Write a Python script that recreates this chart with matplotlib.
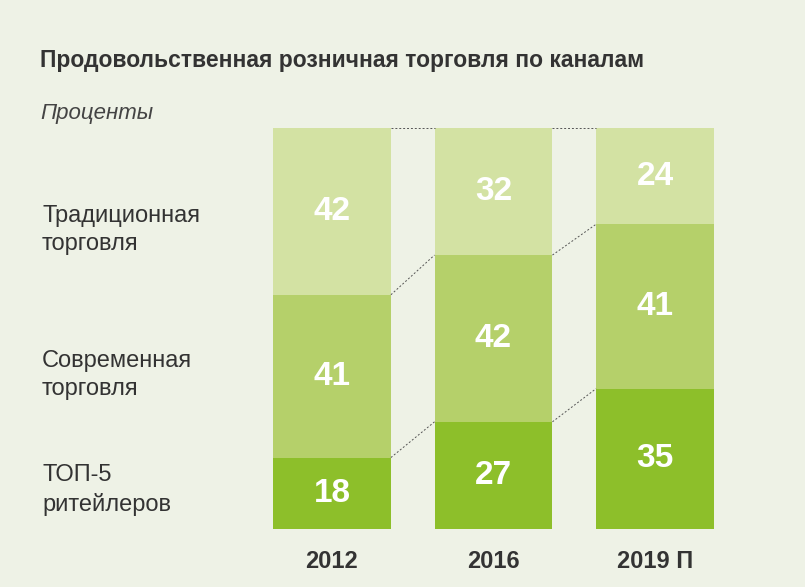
import matplotlib
matplotlib.use("Agg")
import matplotlib.pyplot as plt
import numpy as np

plt.rcParams['font.family'] = ['Liberation Sans Narrow', 'Liberation Sans', 'DejaVu Sans']

years = ["2012", "2016", "2019 П"]
top5 = [18, 27, 35]
modern = [41, 42, 41]
traditional = [42, 32, 24]
series_labels = ["ТОП-5\nритейлеров", "Современная\nторговля", "Традиционная\nторговля"]
colors = ["#8dbf2a", "#b5d06a", "#d3e2a3"]
bg = "#eef2e6"

fig = plt.figure(figsize=(8.05, 5.87), dpi=100, facecolor=bg)
ax = fig.add_axes([273/805, 1-529/587, 441/805, 401/587])
ax.set_facecolor(bg)

data = np.array([top5, modern, traditional], dtype=float)
frac = data / data.sum(axis=0)
x = np.arange(len(years))
w = 0.73
bottom = np.zeros(len(years))
bounds = [bottom.copy()]
for i in range(3):
    ax.bar(x, frac[i], w, bottom=bottom, color=colors[i], edgecolor='none')
    for j in range(len(years)):
        ax.text(x[j], bottom[j] + frac[i][j]/2, str(int(data[i][j])), ha='center', va='center',
                color='white', fontsize=24, fontweight='bold')
    bottom = bottom + frac[i]
    bounds.append(bottom.copy())

for b in bounds[1:]:
    for j in range(len(years)-1):
        ax.plot([x[j]+w/2, x[j+1]-w/2], [b[j], b[j+1]], color='#555555', lw=0.7, ls=(0, (2, 2)))

ax.set_xlim(-0.365, 2.365)
ax.set_ylim(0, 1)
ax.axis('off')

for j, y in enumerate(years):
    ax.text(x[j], -0.08, y, ha='center', va='center', fontsize=17, fontweight='bold', color='#333333')

fig.text(40/805, 1-60/587, "Продовольственная розничная торговля по каналам", fontsize=16.5,
         fontweight='bold', color='#333333', va='center')
fig.text(40/805, 1-114/587, "Проценты", fontsize=16, style='italic', color='#444444', va='center')
ypos = [490, 375, 230]
for lbl, yp in zip(series_labels, ypos):
    fig.text(42/805, 1-yp/587, lbl, fontsize=17, color='#333333', va='center', linespacing=1.4)

fig.savefig("out.png", dpi=100, facecolor=bg)
